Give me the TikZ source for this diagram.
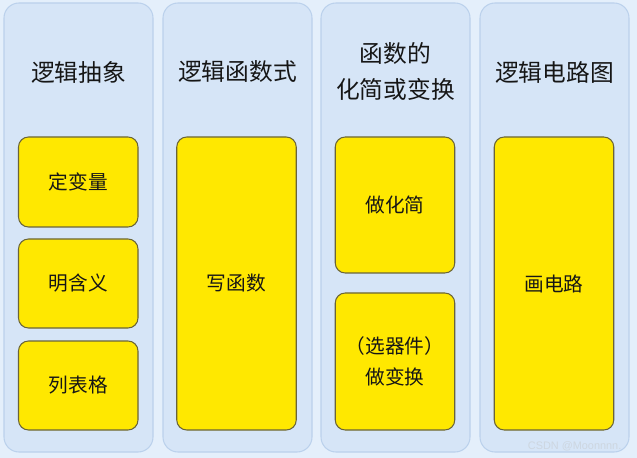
\documentclass[tikz,border=0pt]{standalone}
\usepackage{fontspec}
\setmainfont{Noto Sans CJK SC}
\newfontfamily\wmfont{Liberation Sans}
\usepackage{xcolor}
\usetikzlibrary{positioning}
\definecolor{backblue}{HTML}{E4EFFB}
\definecolor{panelblue}{HTML}{D6E5F7}
\definecolor{paneledge}{HTML}{BBD1EC}
\definecolor{boxyellow}{HTML}{FFE800}
\definecolor{boxedge}{HTML}{6A6438}
\definecolor{titleink}{HTML}{161616}
\definecolor{wmgray}{HTML}{CDD6E0}
\tikzset{
  panel/.style={draw=paneledge,fill=panelblue,line width=0.6pt,
                rounded corners=0.30cm,minimum width=2.98cm,
                minimum height=8.98cm,inner sep=0pt},
  coltitle/.style={font=\fontsize{13.5}{21}\selectfont,color=titleink,
                   align=center},
  ybox/.style={draw=boxedge,fill=boxyellow,line width=0.6pt,
               rounded corners=0.20cm,minimum width=2.39cm,inner sep=0pt,
               align=center,font=\fontsize{11.2}{18}\selectfont,
               text=titleink},
  watermark/.style={font=\wmfont\fontsize{6.2}{7}\selectfont,color=wmgray}
}
\begin{document}
\begin{tikzpicture}[x=1cm,y=1cm]
    \path[use as bounding box,fill=backblue] (0,0) rectangle (12.74,-9.16);

    % four columns
    \node[panel] (c1) at (1.57,-4.55) {};
    \node[panel] (c2) at (4.75,-4.55) {};
    \node[panel] (c3) at (7.91,-4.55) {};
    \node[panel] (c4) at (11.09,-4.55) {};

    \node[coltitle] (t1) at (1.57,-1.44) {逻辑抽象};
    \node[coltitle] (t2) at (4.75,-1.44) {逻辑函数式};
    \node[coltitle] (t3) at (7.91,-1.43) {函数的\\化简或变换};
    \node[coltitle] (t4) at (11.09,-1.44) {逻辑电路图};

    % yellow steps
    \node[ybox,minimum height=1.80cm] (a1) at (1.565,-3.64) {定变量};
    \node[ybox,minimum height=1.78cm] (a2) at (1.565,-5.67) {明含义};
    \node[ybox,minimum height=1.78cm] (a3) at (1.565,-7.71) {列表格};
    \node[ybox,minimum height=5.86cm] (b1) at (4.73,-5.67) {写函数};
    \node[ybox,minimum height=2.72cm] (s1) at (7.90,-4.10) {做化简};
    \node[ybox,minimum height=2.74cm] (s2) at (7.90,-7.23)
      {（选器件）\\做变换};
    \node[ybox,minimum height=5.86cm] (d1) at (11.08,-5.67) {画电路};

    \node[watermark,anchor=east] (wm) at (12.55,-8.92) {CSDN @Moonnnn.};
\end{tikzpicture}
\end{document}
